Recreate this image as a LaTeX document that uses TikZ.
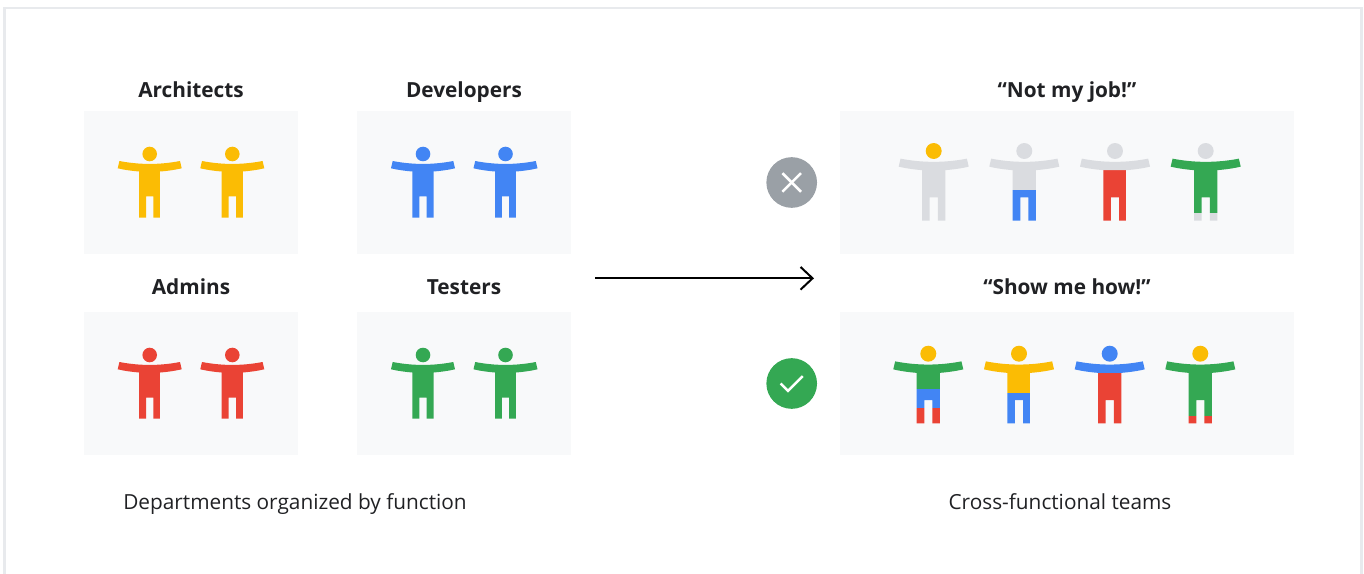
\documentclass[tikz,border=0pt]{standalone}
\usepackage{fontspec}
\setmainfont{Open Sans}
\usetikzlibrary{arrows.meta}
\definecolor{gyellow}{HTML}{FBBC04}
\definecolor{gblue}{HTML}{4285F4}
\definecolor{gred}{HTML}{EA4335}
\definecolor{ggreen}{HTML}{34A853}
\definecolor{ggrey}{HTML}{DADCE0}
\definecolor{gdark}{HTML}{9AA0A6}
\definecolor{gpanel}{HTML}{F8F9FA}
\definecolor{gframe}{HTML}{E8EAED}
\definecolor{gtext}{HTML}{202124}
\tikzstyle{panel} = [rectangle, fill=gpanel, minimum width=160.5pt, minimum height=107.25pt, inner sep=0pt]
\tikzstyle{widepanel} = [panel, minimum width=340.5pt]
\tikzstyle{title} = [font=\fontsize{15.6}{18}\selectfont\bfseries, text=gtext, text height=11pt, text depth=3pt, inner sep=0pt]
\tikzstyle{caption} = [font=\fontsize{15.6}{18}\selectfont, text=gtext, text height=11pt, text depth=3pt, inner sep=0pt]
\tikzstyle{badge} = [circle, minimum size=38pt, inner sep=0pt]
\tikzstyle{badgemark} = [draw=white, line width=1.9pt]
\tikzstyle{arrow} = [line width=1.5pt, -{Straight Barb[length=9pt, width=17pt, line width=1.5pt]}]
% body colours: upper/split/middle/split/lower
\def\bodyfill#1/#2/#3/#4/#5\relax{%
  \fill[#1] (-11,16) rectangle (11,#2);
  \fill[#3] (-11,#2) rectangle (11,#4);
  \fill[#5] (-11,#4) rectangle (11,64);}
% cx, cy, scale, head, arms, body
\newcommand{\person}[6]{%
  \begin{scope}[shift={(#1,#2)}, scale=#3]
  \fill[#4] (0,0) circle (7.3);
  \begin{scope}
  \clip (-10.7,17) -- (10.7,17) -- (10.7,63.7) -- (3.7,63.7) -- (3.7,42.5) -- (-3.7,42.5) -- (-3.7,63.7) -- (-10.7,63.7) -- cycle;
  \bodyfill#6\relax
  \end{scope}
  \fill[#5] (-30.3,7) .. controls (-10,10.9) and (10,10.9) .. (30.3,7) -- (32,14.3) .. controls (25,16) and (17,17) .. (10.7,17.5) -- (-10.7,17.5) .. controls (-17,17) and (-25,16) .. (-32,14.3) -- cycle;
  \end{scope}}
\begin{document}
\begin{tikzpicture}[x=0.75pt, y=-0.75pt, node distance=67.9pt]
\useasboundingbox (0,0) rectangle (1364,574);
\draw[gframe, line width=1.9pt] (4.5,574) |- (1361.5,8) -- (1361.5,574);

\node (arch) [panel] at (191,182.5) {};
\node (dev) [panel] at (464,182.5) {};
\node (admin) [panel] at (191,383.5) {};
\node (tester) [panel] at (464,383.5) {};
\node (notjob) [widepanel] at (1067,182.5) {};
\node (showme) [widepanel] at (1067,383.5) {};

\node (archlabel) [title, above of=arch] {Architects};
\node (devlabel) [title, above of=dev] {Developers};
\node (adminlabel) [title, above of=admin, yshift=3pt] {Admins};
\node (testerlabel) [title, above of=tester, yshift=3pt] {Testers};
\node (notjoblabel) [title, above of=notjob] {“Not my job!”};
\node (showmelabel) [title, above of=showme, yshift=3pt] {“Show me how!”};

\node (deptcaption) [caption] at (295,504.5) {Departments organized by function};
\node (teamcaption) [caption] at (1060,504.5) {Cross-functional teams};

\node (nobadge) [badge, fill=gdark] at (791.7,182.5) {};
\node (yesbadge) [badge, fill=ggreen] at (791.7,383.5) {};
\draw[badgemark] ([shift={(-9.3,-9.3)}]nobadge.center) -- ([shift={(9.3,9.3)}]nobadge.center);
\draw[badgemark] ([shift={(-9.3,9.3)}]nobadge.center) -- ([shift={(9.3,-9.3)}]nobadge.center);
\draw[badgemark] ([shift={(-11,0)}]yesbadge.center) -- ([shift={(-3.7,7.3)}]yesbadge.center) -- ([shift={(11,-7.3)}]yesbadge.center);

\coordinate (arrowstart) at (595,278.3);
\coordinate (arrowend) at (814,278.3);
\draw [arrow] (arrowstart) -- (arrowend);

\person{149.7}{154}{1}{gyellow}{gyellow}{gyellow/40/gyellow/50/gyellow}
\person{232.3}{154}{1}{gyellow}{gyellow}{gyellow/40/gyellow/50/gyellow}
\person{423}{154}{1}{gblue}{gblue}{gblue/40/gblue/50/gblue}
\person{505.5}{154}{1}{gblue}{gblue}{gblue/40/gblue/50/gblue}
\person{149.7}{355}{1}{gred}{gred}{gred/40/gred/50/gred}
\person{232.3}{355}{1}{gred}{gred}{gred/40/gred/50/gred}
\person{423}{355}{1}{ggreen}{ggreen}{ggreen/40/ggreen/50/ggreen}
\person{505.5}{355}{1}{ggreen}{ggreen}{ggreen/40/ggreen/50/ggreen}

\person{933.7}{151}{1.094}{gyellow}{ggrey}{ggrey/40/ggrey/50/ggrey}
\person{1024.3}{151}{1.094}{ggrey}{ggrey}{ggrey/35.7/gblue/50/gblue}
\person{1115}{151}{1.094}{ggrey}{ggrey}{gred/40/gred/50/gred}
\person{1205.7}{151}{1.094}{ggrey}{ggreen}{ggreen/40/ggreen/57/ggrey}

\person{928.3}{353.7}{1.094}{gyellow}{ggreen}{ggreen/32.3/gblue/49.6/gred}
\person{1019}{353.7}{1.094}{gyellow}{gyellow}{gyellow/35.7/gblue/50/gblue}
\person{1109.7}{353.7}{1.094}{gblue}{gblue}{gred/40/gred/50/gred}
\person{1200.3}{353.7}{1.094}{gyellow}{ggreen}{ggreen/40/ggreen/57.3/gred}
\end{tikzpicture}
\end{document}
